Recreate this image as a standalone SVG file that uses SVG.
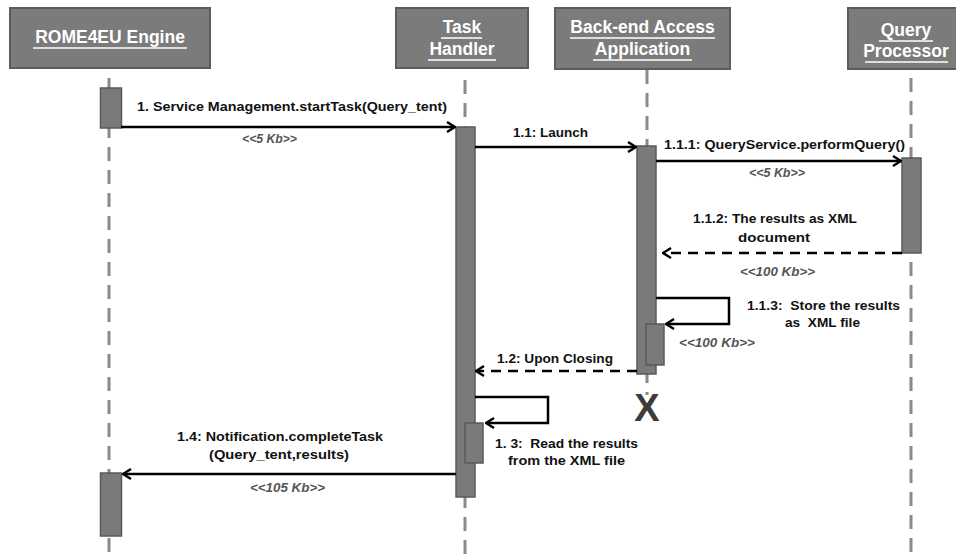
<svg xmlns="http://www.w3.org/2000/svg" width="956" height="559" viewBox="0 0 956 559">
<defs>
<style>
.hdr{fill:#7b7b7b;stroke:#5c5c5c;stroke-width:2}
.htx{font-family:"Liberation Sans",Arial,sans-serif;font-weight:bold;font-size:17.5px;fill:#fff;text-anchor:middle}
.ul{stroke:#fff;stroke-width:1.6}
.life{stroke:#8a8a8a;stroke-width:3;stroke-dasharray:14 9;fill:none}
.bar{fill:#7a7a7a;stroke:#5a5a5a;stroke-width:1.5}
.msg{stroke:#000;stroke-width:2.5;fill:none}
.ret{stroke:#000;stroke-width:2.5;fill:none;stroke-dasharray:10 7}
.lbl{font-family:"Liberation Sans",Arial,sans-serif;font-weight:bold;font-size:13px;fill:#111;white-space:pre}
.kb{font-family:"Liberation Sans",Arial,sans-serif;font-weight:bold;font-style:italic;font-size:12px;fill:#555}
.x{font-family:"Liberation Sans",Arial,sans-serif;font-weight:bold;font-size:38px;fill:#3c3c3c;text-anchor:middle}
</style>
<marker id="ah" viewBox="0 0 10 12" refX="9" refY="6" markerWidth="10" markerHeight="12" markerUnits="userSpaceOnUse" orient="auto">
<path d="M1,1 L9,6 L1,11" fill="none" stroke="#000" stroke-width="2.4"/>
</marker>
</defs>
<rect width="956" height="559" fill="#fff"/>

<g id="lifelines">
<line class="life" x1="109" y1="78" x2="109" y2="559"/>
<line class="life" x1="465" y1="80" x2="465" y2="559"/>
<line class="life" x1="647" y1="70" x2="647" y2="395"/>
<line class="life" x1="911" y1="78" x2="911" y2="559"/>
</g>

<g id="rome4eu">
<rect class="hdr" x="10" y="8" width="200" height="60"/>
<text class="htx" x="110" y="43">ROME4EU Engine</text>
<line class="ul" x1="33" y1="48" x2="187" y2="48"/>
<rect class="bar" x="100.5" y="88" width="21" height="40"/>
<rect class="bar" x="100.5" y="473" width="21" height="63"/>
</g>

<g id="taskhandler">
<rect class="hdr" x="396" y="8" width="132" height="60"/>
<text class="htx" x="462" y="33">Task</text>
<line class="ul" x1="441" y1="38" x2="482" y2="38"/>
<text class="htx" x="462" y="55">Handler</text>
<line class="ul" x1="428" y1="60" x2="496" y2="60"/>
<rect class="bar" x="456" y="127" width="19" height="370"/>
<rect class="bar" x="465" y="423" width="18" height="40"/>
</g>

<g id="backend">
<rect class="hdr" x="555" y="8" width="175" height="61"/>
<text class="htx" x="642.5" y="33">Back-end Access</text>
<line class="ul" x1="570" y1="38" x2="715" y2="38"/>
<text class="htx" x="642.5" y="55">Application</text>
<line class="ul" x1="593" y1="60" x2="692" y2="60"/>
<rect class="bar" x="637" y="146" width="19" height="228"/>
<rect class="bar" x="646" y="324" width="18" height="41"/>
<text class="x" x="647" y="421">X</text>
</g>

<g id="queryprocessor">
<rect class="hdr" x="848" y="8" width="120" height="61"/>
<text class="htx" x="906" y="36">Query</text>
<line class="ul" x1="879" y1="41" x2="933" y2="41"/>
<text class="htx" x="906" y="57">Processor</text>
<line class="ul" x1="865" y1="62" x2="948" y2="62"/>
<rect class="bar" x="902" y="158" width="19" height="95"/>
</g>

<g id="connectors">
<line class="msg" x1="121" y1="127" x2="455" y2="127" marker-end="url(#ah)"/>
<line class="msg" x1="475" y1="147" x2="636" y2="147" marker-end="url(#ah)"/>
<line class="msg" x1="656" y1="161" x2="901" y2="161" marker-end="url(#ah)"/>
<line class="ret" x1="902" y1="253" x2="663" y2="253" marker-end="url(#ah)"/>
<path class="msg" d="M656,298 H729 V324 H666" marker-end="url(#ah)"/>
<line class="ret" x1="637" y1="371" x2="476" y2="371" marker-end="url(#ah)"/>
<path class="msg" d="M475,397 H548 V423 H486" marker-end="url(#ah)"/>
<line class="msg" x1="456" y1="474" x2="123" y2="474" marker-end="url(#ah)"/>
</g>

<g id="labels">
<text class="lbl" x="137" y="111" textLength="310" lengthAdjust="spacingAndGlyphs">1. Service Management.startTask(Query_tent)</text>
<text class="kb" x="242" y="143" textLength="55" lengthAdjust="spacingAndGlyphs">&lt;&lt;5 Kb&gt;&gt;</text>
<text class="lbl" x="513" y="137" textLength="75" lengthAdjust="spacingAndGlyphs">1.1: Launch</text>
<text class="lbl" x="664" y="149" textLength="241" lengthAdjust="spacingAndGlyphs">1.1.1: QueryService.performQuery()</text>
<text class="kb" x="749" y="177" textLength="56" lengthAdjust="spacingAndGlyphs">&lt;&lt;5 Kb&gt;&gt;</text>
<text class="lbl" x="693" y="223" textLength="164" lengthAdjust="spacingAndGlyphs">1.1.2: The results as XML</text>
<text class="lbl" x="738" y="242" textLength="72" lengthAdjust="spacingAndGlyphs">document</text>
<text class="kb" x="740" y="276" textLength="75" lengthAdjust="spacingAndGlyphs">&lt;&lt;100 Kb&gt;&gt;</text>
<text class="lbl" x="747" y="310" textLength="153" lengthAdjust="spacingAndGlyphs" xml:space="preserve">1.1.3:  Store the results</text>
<text class="lbl" x="785" y="327" textLength="75" lengthAdjust="spacingAndGlyphs" xml:space="preserve">as  XML file</text>
<text class="kb" x="679" y="347" textLength="76" lengthAdjust="spacingAndGlyphs">&lt;&lt;100 Kb&gt;&gt;</text>
<text class="lbl" x="497" y="363" textLength="116" lengthAdjust="spacingAndGlyphs">1.2: Upon Closing</text>
<text class="lbl" x="495" y="448" textLength="143" lengthAdjust="spacingAndGlyphs" xml:space="preserve">1. 3:  Read the results</text>
<text class="lbl" x="508" y="465" textLength="117" lengthAdjust="spacingAndGlyphs">from the XML file</text>
<text class="lbl" x="177" y="441" textLength="206" lengthAdjust="spacingAndGlyphs">1.4: Notification.completeTask</text>
<text class="lbl" x="209" y="459" textLength="140" lengthAdjust="spacingAndGlyphs">(Query_tent,results)</text>
<text class="kb" x="250" y="492" textLength="75" lengthAdjust="spacingAndGlyphs">&lt;&lt;105 Kb&gt;&gt;</text>
</g>
</svg>
